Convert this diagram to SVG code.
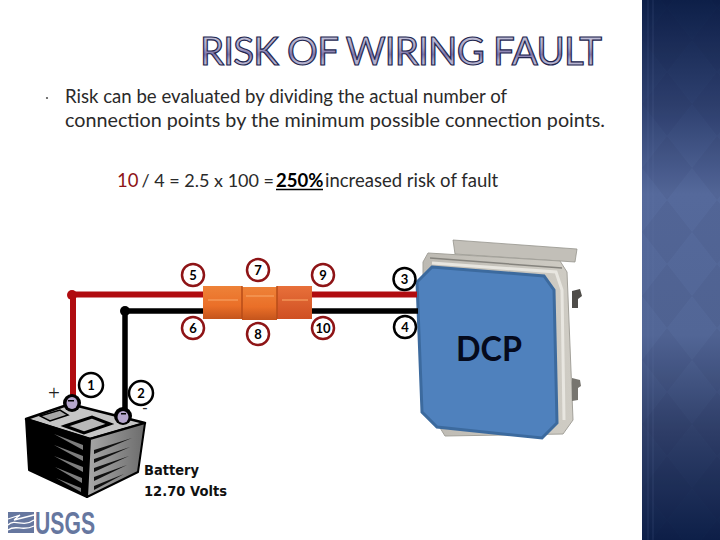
<svg xmlns="http://www.w3.org/2000/svg" width="720" height="540" viewBox="0 0 720 540">
<style>
.body{font-family:"Lato","Open Sans","Liberation Sans",sans-serif;font-size:19.500px;fill:#2a2a2a}
.eq{font-family:"Lato","Open Sans","Liberation Sans",sans-serif;font-size:18.500px;fill:#2a2a2a}
.num{font-family:"Lato","Open Sans","Liberation Sans",sans-serif;font-size:13px;font-weight:700;text-anchor:middle}
.rc{fill:#fff;stroke:#8e1416;stroke-width:2.5}
.bc{fill:#fff;stroke:#000;stroke-width:2.5}
.bat{font-family:"DejaVu Sans",sans-serif;font-size:14px;font-weight:700;fill:#111}
.wedge{fill:#7d7d7d}
.wedgeD{fill:#111}
</style>
<defs>
<linearGradient id="panel" x1="0" y1="0" x2="0" y2="1">
<stop offset="0" stop-color="#0d1f48"/>
<stop offset=".2" stop-color="#2f4170"/>
<stop offset=".36" stop-color="#55699b"/>
<stop offset=".62" stop-color="#526696"/>
<stop offset=".8" stop-color="#2f3f69"/>
<stop offset="1" stop-color="#0d1f48"/>
</linearGradient>
<pattern id="dia" width="50" height="64" patternUnits="userSpaceOnUse" x="642" y="8">
<path d="M25 0L50 32L25 64L0 32Z" fill="#0a1a40" fill-opacity=".05"/>
</pattern>
<linearGradient id="title" x1="0" y1="0" x2="0" y2="1">
<stop offset="0" stop-color="#d8d8e6"/>
<stop offset=".45" stop-color="#a8a4c6"/>
<stop offset=".6" stop-color="#7f74aa"/>
<stop offset=".72" stop-color="#aeaaca"/>
<stop offset="1" stop-color="#cfcfe0"/>
</linearGradient>
<linearGradient id="conn" x1="0" y1="0" x2="0" y2="1">
<stop offset="0" stop-color="#ee8238"/>
<stop offset=".6" stop-color="#ea6f28"/>
<stop offset="1" stop-color="#c4541c"/>
</linearGradient>
<linearGradient id="connR" x1="0" y1="0" x2="0" y2="1">
<stop offset="0" stop-color="#e8703a"/>
<stop offset="1" stop-color="#cf4f22"/>
</linearGradient>
<linearGradient id="grey" x1="0" y1="0" x2="1" y2="0">
<stop offset="0" stop-color="#bdbab3"/>
<stop offset="1" stop-color="#cfccc4"/>
</linearGradient>
<linearGradient id="batR" x1="0" y1="0" x2="1" y2="0">
<stop offset="0" stop-color="#a8a8a8"/>
<stop offset="1" stop-color="#6c6c6c"/>
</linearGradient>
</defs>
<rect width="720" height="540" fill="#fff"/>
<g id="side-panel">
<rect x="642" y="0" width="78" height="540" fill="url(#panel)"/>
<rect x="642" y="0" width="78" height="540" fill="url(#dia)"/>
<rect x="647" y="0" width="2" height="540" fill="#6a7fb0" fill-opacity=".1"/>
<rect x="652" y="0" width="2" height="540" fill="#6a7fb0" fill-opacity=".1"/>
</g>
<text id="title-text" x="200" y="65" font-family="Lato,'Open Sans',sans-serif" font-size="38.500" font-weight="400" textLength="402" fill="url(#title)" stroke="#23264f" stroke-width="1.200">RISK OF WIRING FAULT</text>
<g id="body-text">
<circle cx="47" cy="98" r="1.1" fill="#555"/>
<text class="body" x="65" y="103" textLength="442" lengthAdjust="spacingAndGlyphs">Risk can be evaluated by dividing the actual number of</text>
<text class="body" x="65" y="127" textLength="540" lengthAdjust="spacingAndGlyphs">connection points by the minimum possible connection points.</text>
<text class="eq" x="117" y="187" style="fill:#8e1416">10</text>
<text class="eq" x="141.500" y="187" style="font-size:18px">/ 4 = 2.5 x 100 =</text>
<text class="eq" x="276" y="187" font-weight="700" style="fill:#000">250%</text>
<path d="M276 189.500H323" stroke="#000" stroke-width="1.500" fill="none"/>
<text class="eq" x="325" y="187">increased risk of fault</text>
</g>
<g id="dcp">
<path d="M453 240L577 249L575 262L455 254Z" fill="#c2bfb8" stroke="#96948d" stroke-width=".8"/>
<path d="M423 262L428 253L560 261L567 272L573 420L563 434L445 436L423 400Z" fill="url(#grey)" stroke="#a3a19a"/>
<path d="M430 258L562 268" stroke="#85837d" stroke-width="1.500" fill="none"/>
<path d="M432 263L556 272L562 290L564 420" stroke="#e8e6e0" stroke-width="3" fill="none"/>
<path d="M572 291L580 289L582 296L578 299L578 308L572 308Z" fill="#4f4d49"/>
<path d="M572 378L580 380L581 386L578 388L578 400L572 401Z" fill="#77756f"/>
<polygon points="432,267 544,276 554,290 557,423 542,438 437,427 422,412 417,282" fill="#4f81bd" stroke="#3c6a9e" stroke-width="3"/>
<text x="489" y="361" text-anchor="middle" font-family="Lato,'Open Sans',sans-serif" font-size="35" font-weight="700" fill="#050a1c" textLength="66" lengthAdjust="spacingAndGlyphs">DCP</text>
</g>
<g id="connectors" fill="none">
<path d="M73 396V294.500H417" stroke="#b00c10" stroke-width="6"/>
<path d="M125 412V311H418" stroke="#000" stroke-width="5.500"/>
<circle cx="72" cy="295" r="5" fill="#b00c10"/>
<circle cx="125" cy="311" r="5" fill="#000"/>
</g>
<g id="wire-connector">
<rect x="203" y="286" width="39" height="33" fill="url(#conn)"/>
<rect x="242" y="287" width="35" height="33" fill="url(#conn)"/>
<rect x="277" y="286" width="35" height="33" fill="url(#connR)"/>
<path d="M242 286V319M277 286V319" stroke="#b84c18" stroke-width="1.500" fill="none"/>
<path d="M246 296H274M208 300H238M282 300H308" stroke="#f6a060" stroke-opacity=".6" stroke-width="2" fill="none"/>
</g>
<g id="n5"><circle class="rc" cx="193" cy="275" r="11"/><text class="num" x="193" y="280">5</text></g>
<g id="n7"><circle class="rc" cx="258" cy="270" r="11"/><text class="num" x="258" y="275">7</text></g>
<g id="n9"><circle class="rc" cx="323" cy="275" r="11"/><text class="num" x="323" y="280">9</text></g>
<g id="n6"><circle class="rc" cx="193" cy="328" r="11"/><text class="num" x="193" y="333">6</text></g>
<g id="n8"><circle class="rc" cx="258" cy="334" r="11"/><text class="num" x="258" y="339">8</text></g>
<g id="n10"><circle class="rc" cx="323" cy="328" r="11"/><text class="num" x="323" y="333">10</text></g>
<g id="n3"><circle class="bc" cx="404.500" cy="279" r="11"/><text class="num" x="404.500" y="284">3</text></g>
<g id="n4"><circle class="bc" cx="405" cy="327" r="11"/><text class="num" x="405" y="332">4</text></g>
<g id="n1"><circle class="bc" cx="91" cy="385" r="12"/><text class="num" x="91" y="390">1</text></g>
<g id="n2"><circle class="bc" cx="141" cy="393" r="12"/><text class="num" x="141" y="398">2</text></g>
<g id="battery">
<polygon points="26,419 70,404 145,423 90,439" fill="#c6c6c6" stroke="#000" stroke-width="2.500" stroke-linejoin="round"/>
<polygon points="26,419 90,439 87,497 29,470" fill="#000" stroke="#000" stroke-width="2" stroke-linejoin="round"/>
<polygon points="90,439 145,423 138,472 87,497" fill="url(#batR)" stroke="#000" stroke-width="2" stroke-linejoin="round"/>
<polygon points="40,416 60,410 68,415 50,421" fill="#a8a8a8" stroke="#000" stroke-width="1.500"/>
<polygon points="65,426 92,417 110,424 84,433" fill="#b8b8b8" stroke="#000" stroke-width="3"/>
<polygon class="wedge" points="54,434 83,445 83,450"/>
<polygon class="wedge" points="54,445 83,456 83,461"/>
<polygon class="wedge" points="54,456 83,467 83,472"/>
<polygon class="wedge" points="55,467 82,478 82,483"/>
<polygon class="wedge" points="56,478 81,488 81,492"/>
<polygon class="wedgeD" points="94,450 132,438 94,454"/>
<polygon class="wedgeD" points="94,459 130,447 94,463"/>
<polygon class="wedgeD" points="94,468 129,456 94,472"/>
<polygon class="wedgeD" points="94,477 127,465 94,481"/>
<polygon class="wedgeD" points="94,486 124,474 94,490"/>
<circle cx="72" cy="403" r="9" fill="#000"/><ellipse cx="72" cy="403" rx="5.500" ry="6" fill="#b5a6cc"/><rect x="68" y="400" width="6" height="1.500" fill="#000"/>
<circle cx="123" cy="416" r="9" fill="#000"/><ellipse cx="123" cy="417" rx="5.500" ry="6" fill="#b5a6cc"/><rect x="121" y="413" width="5" height="1.500" fill="#000"/>
<text x="54" y="400" text-anchor="middle" font-family="'Liberation Serif',serif" font-size="21" fill="#222">+</text>
<text x="145" y="413" text-anchor="middle" font-family="'Liberation Sans',sans-serif" font-size="16" fill="#333">-</text>
<text class="bat" x="144" y="475" textLength="55" lengthAdjust="spacingAndGlyphs">Battery</text>
<text class="bat" x="144" y="496" textLength="83" lengthAdjust="spacingAndGlyphs">12.70 Volts</text>
</g>
<g id="usgs">
<rect x="8" y="512" width="26" height="21" fill="#66779f"/>
<path d="M8 519L20 515L14 520L34 515M8 525C16 518 22 528 34 520M8 530C16 524 22 532 34 526" stroke="#fff" stroke-width="1.300" fill="none"/>
<text x="35" y="533.500" font-family="'Liberation Sans',sans-serif" font-size="31" font-weight="700" fill="#66779f" textLength="60" lengthAdjust="spacingAndGlyphs">USGS</text>
</g>
</svg>
